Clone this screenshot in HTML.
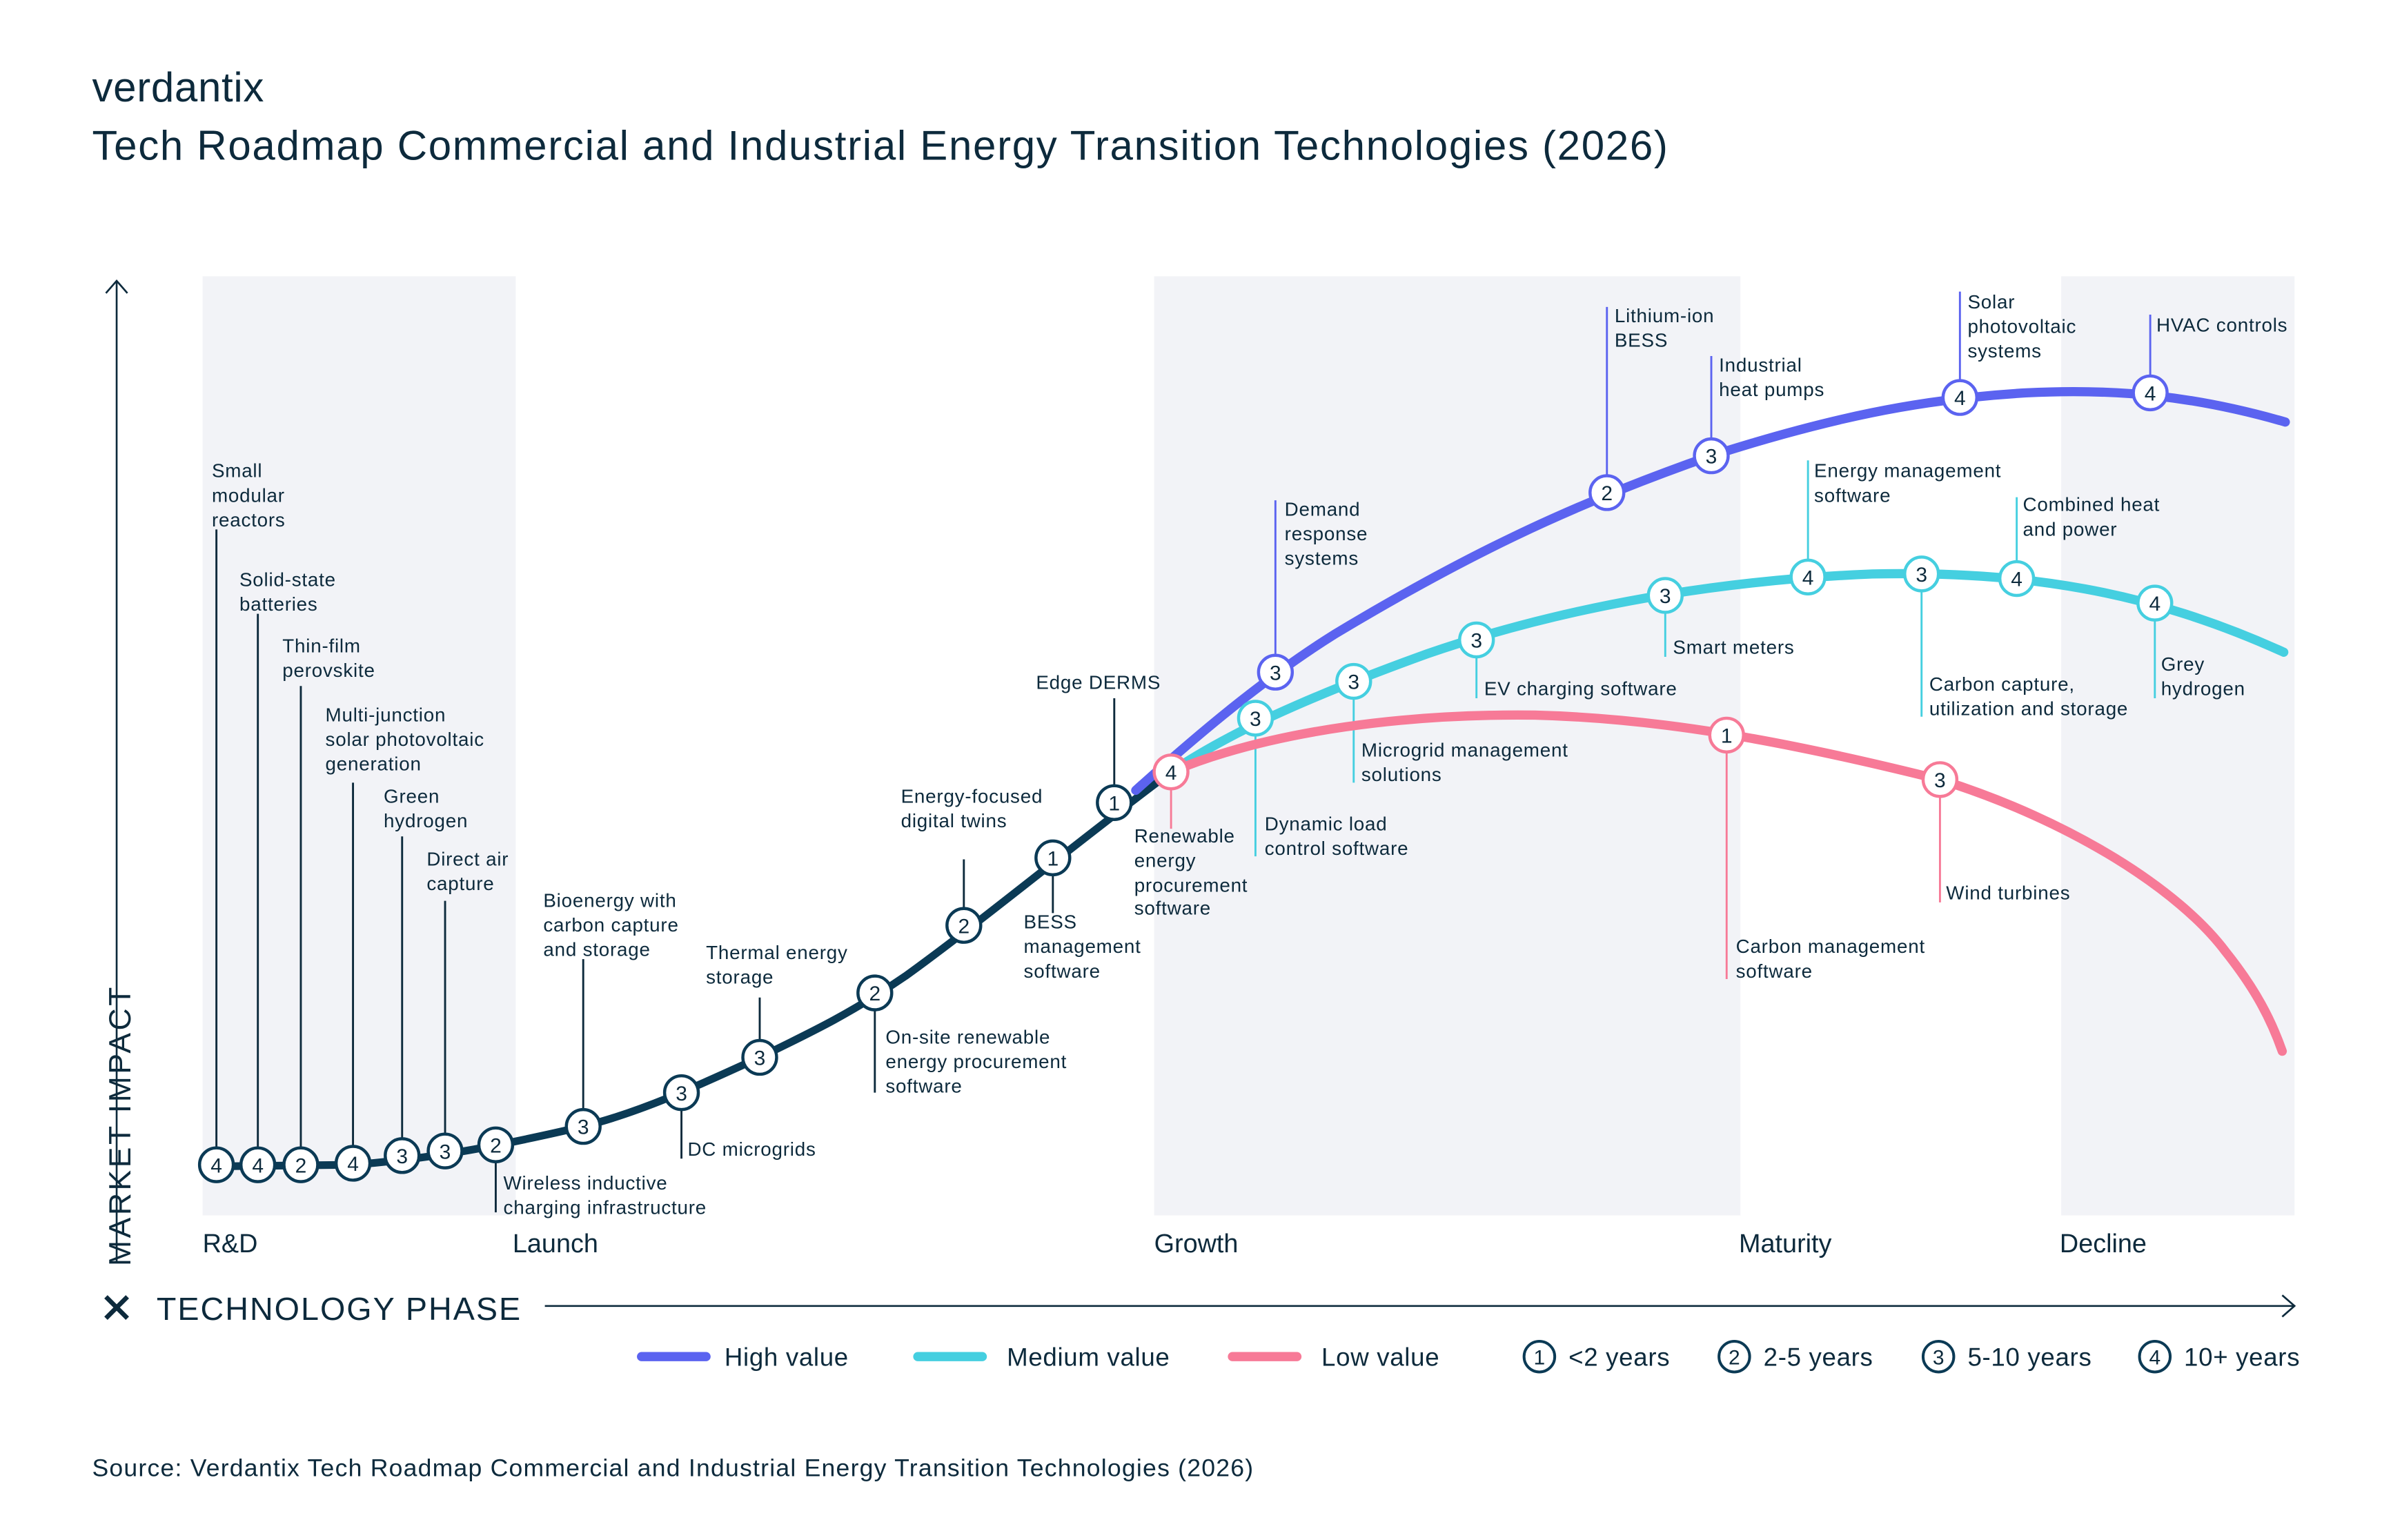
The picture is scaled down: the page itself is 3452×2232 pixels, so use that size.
<!DOCTYPE html>
<html><head><meta charset="utf-8"><style>
html,body{margin:0;padding:0;background:#fff;}
svg{display:block;}
text{font-family:"Liberation Sans",sans-serif;}
.l{font-size:12.5px;fill:#0d2a3c;letter-spacing:0.35px;}
.n{font-size:13.5px;text-anchor:middle;fill:#0d2a3c;}
</style></head><body>
<svg width="3452" height="2232" viewBox="0 0 1552 1003.5" xmlns="http://www.w3.org/2000/svg">
<rect width="1552" height="1004" fill="#fff"/>
<text x="60" y="66" font-size="27" fill="#0d2a3c" letter-spacing="0.3">verdantix</text>
<text x="60" y="104" font-size="27" fill="#0d2a3c" letter-spacing="0.75">Tech Roadmap Commercial and Industrial Energy Transition Technologies (2026)</text>
<rect x="132" y="180" width="204" height="612" fill="#f2f3f7"/>
<rect x="752" y="180" width="382" height="612" fill="#f2f3f7"/>
<rect x="1343" y="180" width="152" height="612" fill="#f2f3f7"/>
<!-- axes -->
<line x1="76" y1="822" x2="76" y2="183" stroke="#0d2a3c" stroke-width="1.2"/>
<polyline points="69,191 76,183 83,191" fill="none" stroke="#0d2a3c" stroke-width="1.2"/>
<text transform="translate(85,825) rotate(-90)" font-size="20" fill="#0d2a3c" letter-spacing="1.6">MARKET IMPACT</text>
<line x1="355" y1="851" x2="1495" y2="851" stroke="#0d2a3c" stroke-width="1.2"/>
<polyline points="1487,844 1495,851 1487,858" fill="none" stroke="#0d2a3c" stroke-width="1.2"/>
<g stroke="#0d2a3c" stroke-width="3"><line x1="69" y1="845" x2="83" y2="859"/><line x1="83" y1="845" x2="69" y2="859"/></g>
<text x="102" y="860" font-size="21" fill="#0d2a3c" letter-spacing="0.9">TECHNOLOGY PHASE</text>
<g font-size="17" fill="#0d2a3c"><text x="132" y="816">R&amp;D</text><text x="334" y="816">Launch</text><text x="752" y="816">Growth</text><text x="1133" y="816">Maturity</text><text x="1342" y="816">Decline</text></g>
<!-- label lines -->
<g stroke="#0d2a3c" stroke-width="1.3">
<line x1="141" y1="759" x2="141" y2="345"/><line x1="168" y1="759" x2="168" y2="400"/><line x1="196" y1="759" x2="196" y2="447"/><line x1="230" y1="758" x2="230" y2="510"/><line x1="262" y1="753" x2="262" y2="545"/><line x1="290" y1="750" x2="290" y2="587"/><line x1="323" y1="746" x2="323" y2="790"/><line x1="380" y1="734" x2="380" y2="625"/><line x1="444" y1="712" x2="444" y2="755"/><line x1="495" y1="689" x2="495" y2="650"/><line x1="570" y1="647" x2="570" y2="712"/><line x1="628" y1="603" x2="628" y2="560"/><line x1="686" y1="559" x2="686" y2="595"/><line x1="726" y1="523" x2="726" y2="455"/>
</g>
<g stroke="#f77a97" stroke-width="1.3"><line x1="763" y1="503" x2="763" y2="540"/><line x1="1125" y1="479" x2="1125" y2="638"/><line x1="1264" y1="508" x2="1264" y2="588"/></g>
<g stroke="#45cfe0" stroke-width="1.3"><line x1="818" y1="468" x2="818" y2="558"/><line x1="882" y1="444" x2="882" y2="510"/><line x1="962" y1="417" x2="962" y2="455"/><line x1="1085" y1="388" x2="1085" y2="428"/><line x1="1178" y1="376" x2="1178" y2="300"/><line x1="1252" y1="374" x2="1252" y2="467"/><line x1="1314" y1="377" x2="1314" y2="324"/><line x1="1404" y1="393" x2="1404" y2="455"/></g>
<g stroke="#5b63f0" stroke-width="1.3"><line x1="831" y1="438" x2="831" y2="326"/><line x1="1047" y1="321" x2="1047" y2="200"/><line x1="1115" y1="297" x2="1115" y2="232"/><line x1="1277" y1="259" x2="1277" y2="190"/><line x1="1401" y1="256" x2="1401" y2="205"/></g>
<!-- curves -->
<path d="M141,760 L230,759 C280,755 320,748 380,734 C420,724 460,705 495,689 C530,672 555,660 590,636 C640,600 700,550 763,503" fill="none" stroke="#0b3a55" stroke-width="5" stroke-linecap="round"/>
<path d="M740,515 C790,470 830,438 870,413 C950,365 1020,330 1115,297 C1190,273 1250,260 1320,256 C1380,253 1430,258 1489,275" fill="none" stroke="#5b63f0" stroke-width="6" stroke-linecap="round"/>
<path d="M763,503 C800,478 850,455 930,426 C1020,395 1120,378 1220,374 C1320,372 1400,385 1488,425" fill="none" stroke="#45cfe0" stroke-width="6" stroke-linecap="round"/>
<path d="M763,503 C830,475 920,465 1000,466 C1080,468 1160,482 1264,508 C1350,535 1420,580 1450,620 C1470,645 1480,665 1487,685" fill="none" stroke="#f77a97" stroke-width="6" stroke-linecap="round"/>
<!-- nodes -->
<g fill="#fff" stroke="#0b3a55" stroke-width="2">
<circle cx="141" cy="759" r="11"/><circle cx="168" cy="759" r="11"/><circle cx="196" cy="759" r="11"/><circle cx="230" cy="758" r="11"/><circle cx="262" cy="753" r="11"/><circle cx="290" cy="750" r="11"/><circle cx="323" cy="746" r="11"/><circle cx="380" cy="734" r="11"/><circle cx="444" cy="712" r="11"/><circle cx="495" cy="689" r="11"/><circle cx="570" cy="647" r="11"/><circle cx="628" cy="603" r="11"/><circle cx="686" cy="559" r="11"/><circle cx="726" cy="523" r="11"/></g>
<g fill="#fff" stroke="#f77a97" stroke-width="2"><circle cx="763" cy="503" r="11"/><circle cx="1125" cy="479" r="11"/><circle cx="1264" cy="508" r="11"/></g>
<g fill="#fff" stroke="#45cfe0" stroke-width="2"><circle cx="818" cy="468" r="11"/><circle cx="882" cy="444" r="11"/><circle cx="962" cy="417" r="11"/><circle cx="1085" cy="388" r="11"/><circle cx="1178" cy="376" r="11"/><circle cx="1252" cy="374" r="11"/><circle cx="1314" cy="377" r="11"/><circle cx="1404" cy="393" r="11"/></g>
<g fill="#fff" stroke="#5b63f0" stroke-width="2"><circle cx="831" cy="438" r="11"/><circle cx="1047" cy="321" r="11"/><circle cx="1115" cy="297" r="11"/><circle cx="1277" cy="259" r="11"/><circle cx="1401" cy="256" r="11"/></g>
<g class="n">
<text x="141" y="764" class="n">4</text><text x="168" y="764" class="n">4</text><text x="196" y="764" class="n">2</text><text x="230" y="763" class="n">4</text><text x="262" y="758" class="n">3</text><text x="290" y="755" class="n">3</text><text x="323" y="751" class="n">2</text><text x="380" y="739" class="n">3</text><text x="444" y="717" class="n">3</text><text x="495" y="694" class="n">3</text><text x="570" y="652" class="n">2</text><text x="628" y="608" class="n">2</text><text x="686" y="564" class="n">1</text><text x="726" y="528" class="n">1</text>
<text x="763" y="508" class="n">4</text><text x="1125" y="484" class="n">1</text><text x="1264" y="513" class="n">3</text>
<text x="818" y="473" class="n">3</text><text x="882" y="449" class="n">3</text><text x="962" y="422" class="n">3</text><text x="1085" y="393" class="n">3</text><text x="1178" y="381" class="n">4</text><text x="1252" y="379" class="n">3</text><text x="1314" y="382" class="n">4</text><text x="1404" y="398" class="n">4</text>
<text x="831" y="443" class="n">3</text><text x="1047" y="326" class="n">2</text><text x="1115" y="302" class="n">3</text><text x="1277" y="264" class="n">4</text><text x="1401" y="261" class="n">4</text>
</g>
<!-- labels -->
<g class="l">
<text x="138" y="311">Small</text><text x="138" y="327">modular</text><text x="138" y="343">reactors</text>
<text x="156" y="382">Solid-state</text><text x="156" y="398">batteries</text>
<text x="184" y="425">Thin-film</text><text x="184" y="441">perovskite</text>
<text x="212" y="470">Multi-junction</text><text x="212" y="486">solar photovoltaic</text><text x="212" y="502">generation</text>
<text x="250" y="523">Green</text><text x="250" y="539">hydrogen</text>
<text x="278" y="564">Direct air</text><text x="278" y="580">capture</text>
<text x="328" y="775">Wireless inductive</text><text x="328" y="791">charging infrastructure</text>
<text x="354" y="591">Bioenergy with</text><text x="354" y="607">carbon capture</text><text x="354" y="623">and storage</text>
<text x="448" y="753">DC microgrids</text>
<text x="460" y="625">Thermal energy</text><text x="460" y="641">storage</text>
<text x="577" y="680">On-site renewable</text><text x="577" y="696">energy procurement</text><text x="577" y="712">software</text>
<text x="587" y="523">Energy-focused</text><text x="587" y="539">digital twins</text>
<text x="667" y="605">BESS</text><text x="667" y="621">management</text><text x="667" y="637">software</text>
<text x="675" y="449">Edge DERMS</text>
<text x="739" y="549">Renewable</text><text x="739" y="565">energy</text><text x="739" y="581">procurement</text><text x="739" y="596">software</text>
<text x="1131" y="621">Carbon management</text><text x="1131" y="637">software</text>
<text x="1268" y="586">Wind turbines</text>
<text x="824" y="541">Dynamic load</text><text x="824" y="557">control software</text>
<text x="887" y="493">Microgrid management</text><text x="887" y="509">solutions</text>
<text x="967" y="453">EV charging software</text>
<text x="1090" y="426">Smart meters</text>
<text x="1182" y="311">Energy management</text><text x="1182" y="327">software</text>
<text x="1257" y="450">Carbon capture,</text><text x="1257" y="466">utilization and storage</text>
<text x="1318" y="333">Combined heat</text><text x="1318" y="349">and power</text>
<text x="1408" y="437">Grey</text><text x="1408" y="453">hydrogen</text>
<text x="837" y="336">Demand</text><text x="837" y="352">response</text><text x="837" y="368">systems</text>
<text x="1052" y="210">Lithium-ion</text><text x="1052" y="226">BESS</text>
<text x="1120" y="242">Industrial</text><text x="1120" y="258">heat pumps</text>
<text x="1282" y="201">Solar</text><text x="1282" y="217">photovoltaic</text><text x="1282" y="233">systems</text>
<text x="1405" y="216">HVAC controls</text>
</g>
<!-- legend -->
<g stroke-width="6" stroke-linecap="round"><line x1="418" y1="884" x2="460" y2="884" stroke="#5b63f0"/><line x1="598" y1="884" x2="640" y2="884" stroke="#45cfe0"/><line x1="803" y1="884" x2="845" y2="884" stroke="#f77a97"/></g>
<g font-size="16.5" fill="#0d2a3c" letter-spacing="0.3"><text x="472" y="890">High value</text><text x="656" y="890">Medium value</text><text x="861" y="890">Low value</text>
<text x="1022" y="890">&lt;2 years</text><text x="1149" y="890">2-5 years</text><text x="1282" y="890">5-10 years</text><text x="1423" y="890">10+ years</text></g>
<g fill="#fff" stroke="#0b3a55" stroke-width="1.8"><circle cx="1003" cy="884" r="10"/><circle cx="1130" cy="884" r="10"/><circle cx="1263" cy="884" r="10"/><circle cx="1404" cy="884" r="10"/></g>
<g class="n"><text x="1003" y="889" class="n">1</text><text x="1130" y="889" class="n">2</text><text x="1263" y="889" class="n">3</text><text x="1404" y="889" class="n">4</text></g>
<text x="60" y="962" font-size="16" fill="#0d2a3c" letter-spacing="0.55">Source: Verdantix Tech Roadmap Commercial and Industrial Energy Transition Technologies (2026)</text>
</svg>
</body></html>
